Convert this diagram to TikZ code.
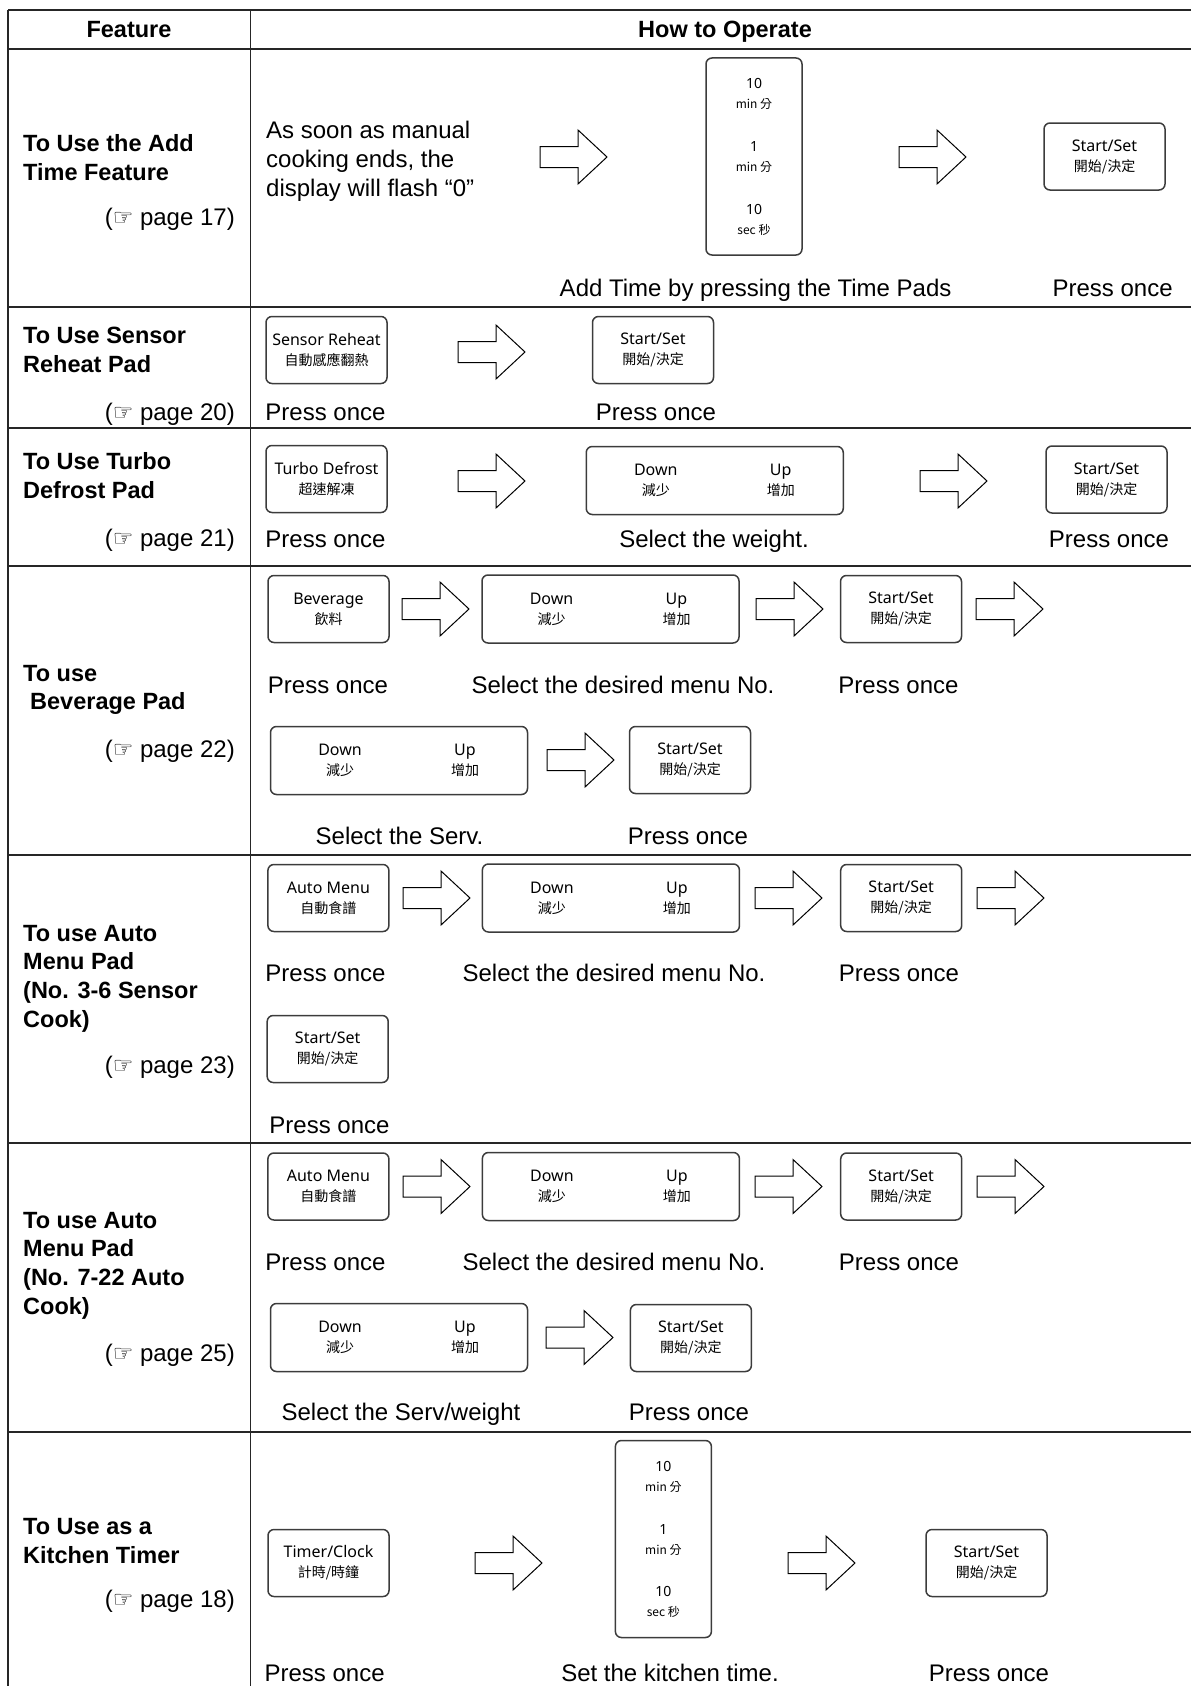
\documentclass[tikz,border=0pt]{standalone}
\usepackage{fontspec}
\setmainfont{Liberation Sans}
\newfontfamily\padfont{Noto Sans}
\newfontfamily\cjkfont{Noto Sans CJK TC}
\newfontfamily\handfont{DejaVu Sans}

\definecolor{padline}{HTML}{3C3C3C}
\definecolor{tableline}{HTML}{262626}

\newcommand{\padtext}[2]{#1\\{\cjkfont\fontsize{14}{20}\selectfont #2}}
\newcommand{\timetext}[2]{{\fontsize{14}{18}\selectfont #1}\\{\cjkfont\fontsize{12}{18}\selectfont #2}}
\newcommand{\seepage}[1]{({\handfont\fontsize{23}{23}\selectfont ☞} page #1)}

\tikzset{
	pad/.style={draw=padline, line width=1.5pt, rounded corners=6pt, minimum width=121pt, minimum height=67pt, inner sep=0pt, align=center, font=\padfont\fontsize{16}{20}\selectfont},
	dialpad/.style={pad, minimum width=257pt, minimum height=68pt},
	timepad/.style={pad, minimum width=96pt, minimum height=197pt},
	padlabel/.style={inner sep=0pt, align=center, font=\padfont\fontsize{16}{20}\selectfont},
	txt/.style={inner sep=0pt, font=\fontsize{24}{29}\selectfont},
	feat/.style={inner sep=0pt, align=left, anchor=west, font=\bfseries\fontsize{23.5}{28.7}\selectfont},
	tablerule/.style={draw=tableline, line width=1.5pt},
	blockarrow/.pic={\draw[line width=1pt, fill=white] (0, -10.5) -- (38, -10.5) -- (38, -27) -- (67, 0) -- (38, 27) -- (38, 10.5) -- (0, 10.5) -- cycle;}
}

\begin{document}
\begin{tikzpicture}[x=1pt, y=-1pt]
		\useasboundingbox (0, 0) rectangle (1191, 1686);
		% table
		\draw[tablerule] (8, 10) -- (1191, 10);
		\draw[tablerule] (8, 49) -- (1191, 49);
		\draw[tablerule] (8, 307) -- (1191, 307);
		\draw[tablerule] (8, 428) -- (1191, 428);
		\draw[tablerule] (8, 566) -- (1191, 566);
		\draw[tablerule] (8, 855) -- (1191, 855);
		\draw[tablerule] (8, 1143) -- (1191, 1143);
		\draw[tablerule] (8, 1432) -- (1191, 1432);
		\draw[tablerule] (8, 10) -- (8, 1686);
		\draw[tablerule] (250.5, 10) -- (250.5, 1686);
		\node [inner sep=0pt, anchor=base, font=\bfseries\fontsize{23.5}{28}\selectfont] (feathead) at (129, 37.5) {Feature};
		\node [inner sep=0pt, anchor=base, font=\bfseries\fontsize{23.5}{28}\selectfont] (howhead) at (725, 37.5) {How to Operate};

		% add time
		\node [feat] (addlabel) at (23, 157.5) {To Use the Add\\Time Feature};
		\node [txt, anchor=base east] (addref) at (235, 225.5) {\seepage{17}};
		\node [txt, align=left, anchor=west] (addnote) at (266, 161) {As soon as manual\\cooking ends, the\\display will flash “0”};
		\pic at (540, 157) {blockarrow};
		\node [timepad] (addtime) at (754, 156.5) {};
		\node [padlabel] (addtenmin) at ([yshift=62.5pt]addtime.center) {\timetext{10}{min 分}};
		\node [padlabel] (addonemin) at ([yshift=-1pt]addtime.center) {\timetext{1}{min 分}};
		\node [padlabel] (addtensec) at ([yshift=-63pt]addtime.center) {\timetext{10}{sec 秒}};
		\pic at (899, 157) {blockarrow};
		\node [pad] (addstart) at (1104.5, 156.5) {\padtext{Start/Set}{開始/決定}};
		\node [txt, anchor=base] (addtimecap) at (755.6, 296.5) {Add Time by pressing the Time Pads};
		\node [txt, anchor=base] (addstartcap) at (1112.6, 296.5) {Press once};

		% sensor reheat
		\node [feat] (reheatlabel) at (23, 350) {To Use Sensor\\Reheat Pad};
		\node [txt, anchor=base east] (reheatref) at (235, 420.5) {\seepage{20}};
		\node [pad] (reheatpad) at (326.5, 350) {\padtext{Sensor Reheat}{自動感應翻熱}};
		\pic at (458, 352) {blockarrow};
		\node [pad] (reheatstart) at (653, 350) {\padtext{Start/Set}{開始/決定}};
		\node [txt, anchor=base] (reheatcap) at (325.5, 420.5) {Press once};
		\node [txt, anchor=base] (reheatstartcap) at (656, 420.5) {Press once};

		% turbo defrost
		\node [feat] (defrostlabel) at (23, 475.5) {To Use Turbo\\Defrost Pad};
		\node [txt, anchor=base east] (defrostref) at (235, 546.5) {\seepage{21}};
		\node [pad] (defrostpad) at (326.5, 479) {\padtext{Turbo Defrost}{超速解凍}};
		\pic at (458, 481) {blockarrow};
		\node [dialpad] (defrostdial) at (714.75, 480.5) {};
		\node [padlabel] (defrostdown) at ([xshift=-59pt]defrostdial.center) {\padtext{Down}{減少}};
		\node [padlabel] (defrostup) at ([xshift=66pt]defrostdial.center) {\padtext{Up}{增加}};
		\pic at (920, 481) {blockarrow};
		\node [pad] (defroststart) at (1106.5, 479.5) {\padtext{Start/Set}{開始/決定}};
		\node [txt, anchor=base] (defrostcap) at (325.5, 547) {Press once};
		\node [txt, anchor=base] (defrostdialcap) at (714, 547) {Select the weight.};
		\node [txt, anchor=base] (defroststartcap) at (1109, 547) {Press once};

		% beverage
		\node [feat] (bevlabel) at (23, 690) {To use\\\hspace*{7pt}Beverage Pad};
		\node [txt, anchor=base east] (bevref) at (235, 757.5) {\seepage{22}};
		\node [pad] (bevpad) at (328.5, 609) {\padtext{Beverage}{飲料}};
		\pic at (402, 609) {blockarrow};
		\node [dialpad] (bevdial) at (610.5, 609) {};
		\node [padlabel] (bevdown) at ([xshift=-59pt]bevdial.center) {\padtext{Down}{減少}};
		\node [padlabel] (bevup) at ([xshift=66pt]bevdial.center) {\padtext{Up}{增加}};
		\pic at (756, 609) {blockarrow};
		\node [pad] (bevstart) at (901, 609) {\padtext{Start/Set}{開始/決定}};
		\pic at (976, 609) {blockarrow};
		\node [txt, anchor=base] (bevcap) at (328, 693.5) {Press once};
		\node [txt, anchor=base] (bevdialcap) at (623, 693.5) {Select the desired menu No.};
		\node [txt, anchor=base] (bevstartcap) at (898.5, 693.5) {Press once};
		\node [dialpad] (bevservdial) at (399, 760.5) {};
		\node [padlabel] (bevservdown) at ([xshift=-59pt]bevservdial.center) {\padtext{Down}{減少}};
		\node [padlabel] (bevservup) at ([xshift=66pt]bevservdial.center) {\padtext{Up}{增加}};
		\pic at (547, 760) {blockarrow};
		\node [pad] (bevservstart) at (690, 760) {\padtext{Start/Set}{開始/決定}};
		\node [txt, anchor=base] (bevservcap) at (399.5, 844.5) {Select the Serv.};
		\node [txt, anchor=base] (bevservstartcap) at (688, 844.5) {Press once};

		% auto menu, sensor cook
		\node [feat] (sensorlabel) at (23, 978.6) {To use Auto\\Menu Pad\\(No. 3-6 Sensor\\Cook)};
		\node [txt, anchor=base east] (sensorref) at (235, 1073.5) {\seepage{23}};
		\node [pad] (sensorpad) at (328.4, 898) {\padtext{Auto Menu}{自動食譜}};
		\pic at (403, 898) {blockarrow};
		\node [dialpad] (sensordial) at (610.9, 898) {};
		\node [padlabel] (sensordown) at ([xshift=-59pt]sensordial.center) {\padtext{Down}{減少}};
		\node [padlabel] (sensorup) at ([xshift=66pt]sensordial.center) {\padtext{Up}{增加}};
		\pic at (755, 898) {blockarrow};
		\node [pad] (sensorstart) at (901.2, 898) {\padtext{Start/Set}{開始/決定}};
		\pic at (977, 898) {blockarrow};
		\node [txt, anchor=base] (sensorcap) at (325.5, 981.5) {Press once};
		\node [txt, anchor=base] (sensordialcap) at (614, 981.5) {Select the desired menu No.};
		\node [txt, anchor=base] (sensorstartcap) at (899, 981.5) {Press once};
		\node [pad] (sensorfinal) at (327.7, 1049) {\padtext{Start/Set}{開始/決定}};
		\node [txt, anchor=base] (sensorfinalcap) at (329.5, 1133.5) {Press once};

		% auto menu, auto cook
		\node [feat] (autolabel) at (23, 1265.5) {To use Auto\\Menu Pad\\(No. 7-22 Auto\\Cook)};
		\node [txt, anchor=base east] (autoref) at (235, 1361.5) {\seepage{25}};
		\node [pad] (autopad) at (328.4, 1186.5) {\padtext{Auto Menu}{自動食譜}};
		\pic at (403, 1186.5) {blockarrow};
		\node [dialpad] (autodial) at (610.9, 1186.5) {};
		\node [padlabel] (autodown) at ([xshift=-59pt]autodial.center) {\padtext{Down}{減少}};
		\node [padlabel] (autoup) at ([xshift=66pt]autodial.center) {\padtext{Up}{增加}};
		\pic at (755, 1186.5) {blockarrow};
		\node [pad] (autostart) at (901.2, 1186.5) {\padtext{Start/Set}{開始/決定}};
		\pic at (977, 1186.5) {blockarrow};
		\node [txt, anchor=base] (autocap) at (325.5, 1270) {Press once};
		\node [txt, anchor=base] (autodialcap) at (614, 1270) {Select the desired menu No.};
		\node [txt, anchor=base] (autostartcap) at (899, 1270) {Press once};
		\node [dialpad] (autoservdial) at (399, 1337.5) {};
		\node [padlabel] (autoservdown) at ([xshift=-59pt]autoservdial.center) {\padtext{Down}{減少}};
		\node [padlabel] (autoservup) at ([xshift=66pt]autoservdial.center) {\padtext{Up}{增加}};
		\pic at (546, 1337.5) {blockarrow};
		\node [pad] (autoservstart) at (690.9, 1338) {\padtext{Start/Set}{開始/決定}};
		\node [txt, anchor=base] (autoservcap) at (401, 1420) {Select the Serv/weight};
		\node [txt, anchor=base] (autoservstartcap) at (689, 1420) {Press once};

		% kitchen timer
		\node [feat] (timerlabel) at (23, 1541) {To Use as a\\Kitchen Timer};
		\node [txt, anchor=base east] (timerref) at (235, 1607.5) {\seepage{18}};
		\node [pad] (timerpad) at (328.5, 1563) {\padtext{Timer/Clock}{計時/時鐘}};
		\pic at (475, 1563) {blockarrow};
		\node [timepad] (timertime) at (663.4, 1539) {};
		\node [padlabel] (timertenmin) at ([yshift=62.5pt]timertime.center) {\timetext{10}{min 分}};
		\node [padlabel] (timeronemin) at ([yshift=-1pt]timertime.center) {\timetext{1}{min 分}};
		\node [padlabel] (timertensec) at ([yshift=-63pt]timertime.center) {\timetext{10}{sec 秒}};
		\pic at (788, 1563) {blockarrow};
		\node [pad] (timerstart) at (986.5, 1563) {\padtext{Start/Set}{開始/決定}};
		\node [txt, anchor=base] (timercap) at (324.6, 1681.5) {Press once};
		\node [txt, anchor=base] (timertimecap) at (670, 1681.5) {Set the kitchen time.};
		\node [txt, anchor=base] (timerstartcap) at (989, 1681.5) {Press once};
	\end{tikzpicture}
\end{document}
